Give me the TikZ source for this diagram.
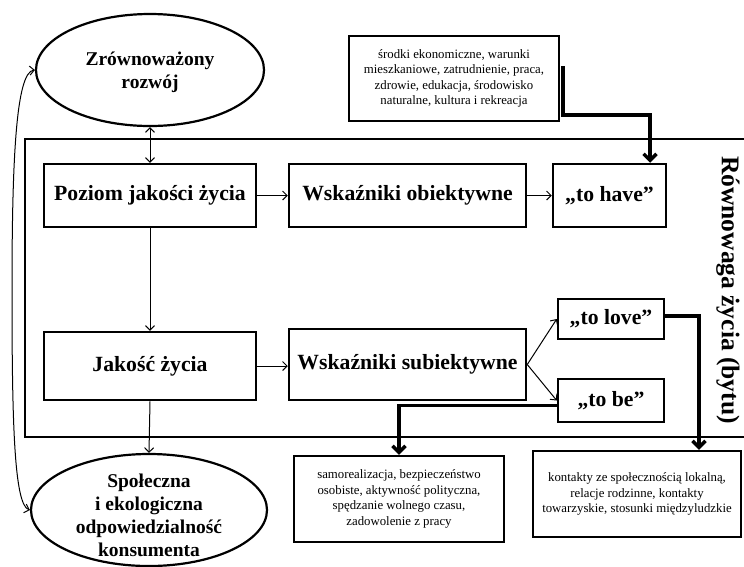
\documentclass[tikz,border=0pt]{standalone}
\usepackage{fontspec}
\setmainfont{Liberation Serif}
\usetikzlibrary{shapes.geometric,arrows.meta}
\begin{document}
\begin{tikzpicture}[x=1pt,y=-1pt,
  box/.style={draw,line width=2.5pt,inner sep=0pt,align=center,font=\fontsize{21.7}{25}\selectfont\bfseries},
  ell/.style={draw,ellipse,line width=2.2pt,inner sep=0pt,align=center,font=\fontsize{19.5}{23}\selectfont\bfseries},
  note/.style={draw,line width=2.5pt,inner sep=0pt,align=center,font=\fontsize{12.8}{15.6}\selectfont},
  thinarrow/.style={line width=1pt,>={Straight Barb[length=4.5pt,width=9pt]}},
  heavy/.style={line width=3.5pt,-{Straight Barb[length=6.5pt,width=13pt]}},
  frame/.style={line width=2.5pt},
  titletext/.style={font=\fontsize{25.5}{30}\selectfont\bfseries},
]
\useasboundingbox (0,0) rectangle (744,566);

% frame
\coordinate (f1) at (744,139);
\coordinate (f2) at (25,139);
\coordinate (f3) at (25,437);
\coordinate (f4) at (744,437);
\draw[frame] (f1) -- (f2) -- (f3) -- (f4);
\node[titletext,rotate=-90] (title) at (728,290) {Równowaga życia (bytu)};

% ellipses
\node[ell,minimum width=228pt,minimum height=112pt] (top) at (150,70) {};
\node[font=\fontsize{19.5}{23}\selectfont\bfseries,align=center] (toptext) at (150,72) {Zrównoważony\\rozwój};
\node[ell,minimum width=236pt,minimum height=112pt] (bot) at (149,510) {};
\node[font=\fontsize{19.5}{23}\selectfont\bfseries,align=center] (bottext) at (149,515) {Społeczna\\i ekologiczna\\odpowiedzialność\\konsumenta};

% boxes
\node[box,minimum width=212pt,minimum height=63pt] (poziom) at (150,195.5) {Poziom jakości życia};
\node[box,minimum width=237pt,minimum height=63pt] (wob) at (407.5,195.5) {Wskaźniki obiektywne};
\node[box,minimum width=113pt,minimum height=63pt] (tohave) at (609.5,195.5) {„to have”};
\node[box,minimum width=212pt,minimum height=68pt] (jakosc) at (150,366) {Jakość życia};
\node[box,minimum width=237pt,minimum height=71pt] (wsub) at (407.5,364.5) {Wskaźniki subiektywne};
\node[box,minimum width=106pt,minimum height=40pt] (tolove) at (611,319) {„to love”};
\node[box,minimum width=106pt,minimum height=43pt] (tobe) at (611,400.5) {„to be”};

% notes
\node[note,minimum width=210pt,minimum height=85pt] (topnote) at (454,78.5) {środki ekonomiczne, warunki\\mieszkaniowe, zatrudnienie, praca,\\zdrowie, edukacja, środowisko\\naturalne, kultura i rekreacja};
\node[note,minimum width=210pt,minimum height=86pt] (leftnote) at (399,499) {samorealizacja, bezpieczeństwo\\osobiste, aktywność polityczna,\\spędzanie wolnego czasu,\\zadowolenie z pracy};
\node[note,minimum width=208pt,minimum height=86pt] (rightnote) at (637,494) {kontakty ze społecznością lokalną,\\relacje rodzinne, kontakty\\towarzyskie, stosunki międzyludzkie};

% thin arrows
\draw[thinarrow,<->] (top.south) -- (poziom.north);
\draw[thinarrow,->] (poziom.east) -- (wob.west);
\draw[thinarrow,->] (wob.east) -- (tohave.west);
\draw[thinarrow,->] (poziom.south) -- (jakosc.north);
\draw[thinarrow,->] (jakosc.east) -- (jakosc.east -| wsub.west);
\draw[thinarrow,->] (jakosc.south) -- (bot.north);
\draw[thinarrow,->] (wsub.east) -- (tolove.west);
\draw[thinarrow,->] (wsub.east) -- (tobe.west);
\draw[thinarrow,<->] (top.west) .. controls (16,72) and (12,160) .. (12,290) .. controls (12,420) and (14,505) .. (bot.west);

% heavy connectors
\coordinate (s1) at (563,66);
\coordinate (c1) at (563,115);
\coordinate (c2) at (650,115);
\draw[heavy] (s1) -- (c1) -- (c2) -- (c2 |- tohave.north);
\draw[heavy] ([yshift=-5pt]tobe.west) -| (leftnote.north);
\draw[heavy] ([yshift=3pt]tolove.east) -| ([xshift=62pt]rightnote.north);
\end{tikzpicture}
\end{document}
